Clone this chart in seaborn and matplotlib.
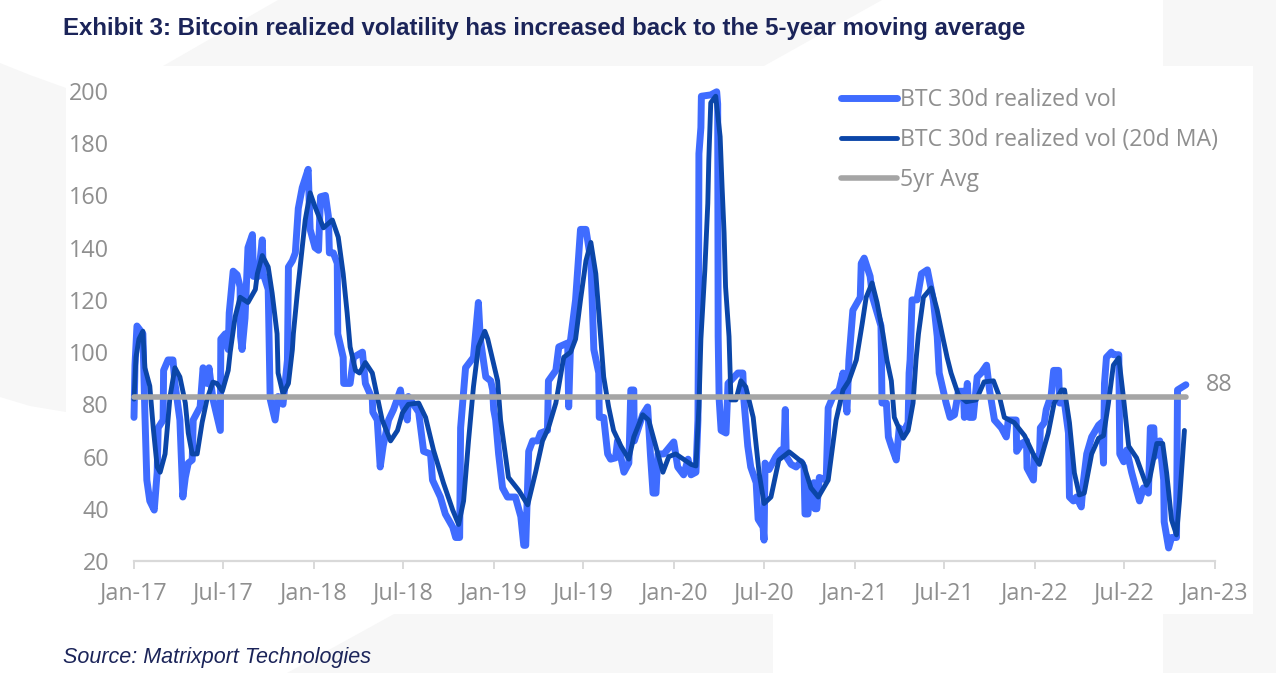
import matplotlib
matplotlib.use("Agg")
import matplotlib.pyplot as plt
import matplotlib.dates as mdates
from matplotlib.patches import Polygon, Rectangle
import pandas as pd
import seaborn as sns

# values, x is days since 1 Jan 2017
raw_days = [0, 2, 6, 18, 22, 26, 32, 41, 47, 49, 59, 60, 69, 79, 83, 93, 99, 104, 110, 118,
            120, 134, 140, 148, 152, 160, 175, 176, 185, 191, 193, 201, 209, 215, 216, 219, 225, 231, 240, 242,
            252, 260, 262, 272, 276, 286, 292, 302, 311, 313, 321, 327, 333, 341, 353, 357, 367, 374, 378, 388,
            394, 396, 404, 412, 413, 424, 425, 438, 445, 463, 469, 483, 484, 493, 499, 505, 516, 526, 540, 544,
            554, 556, 577, 587, 601, 605, 621, 631, 646, 652, 660, 662, 672, 688, 698, 702, 713, 723, 727, 729,
            733, 739, 747, 757, 773, 784, 790, 794, 800, 808, 818, 824, 838, 840, 855, 861, 879, 881, 885, 895,
            905, 916, 926, 932, 942, 943, 952, 960, 966, 976, 980, 993, 1003, 1007, 1013, 1014, 1031, 1041, 1047, 1052,
            1058, 1062, 1074, 1094, 1102, 1114, 1123, 1129, 1139, 1143, 1144, 1145, 1149, 1150, 1169, 1181, 1183, 1184, 1186, 1190,
            1200, 1204, 1224, 1234, 1236, 1244, 1250, 1261, 1265, 1275, 1277, 1279, 1287, 1301, 1311, 1317, 1320, 1322, 1332, 1342,
            1352, 1358, 1360, 1366, 1370, 1378, 1380, 1384, 1389, 1403, 1407, 1419, 1429, 1437, 1445, 1449, 1457, 1472, 1474, 1480,
            1492, 1497, 1514, 1515, 1516, 1525, 1529, 1535, 1545, 1551, 1559, 1569, 1571, 1573, 1577, 1587, 1596, 1608, 1620, 1628,
            1632, 1646, 1654, 1663, 1671, 1681, 1683, 1689, 1693, 1701, 1709, 1717, 1728, 1734, 1744, 1758, 1768, 1772, 1788, 1789,
            1799, 1809, 1810, 1823, 1825, 1835, 1837, 1845, 1849, 1859, 1864, 1874, 1876, 1886, 1894, 1896, 1904, 1910, 1920, 1924,
            1931, 1941, 1955, 1961, 1965, 1967, 1971, 1981, 1985, 1996, 1998, 2006, 2012, 2022, 2032, 2038, 2046, 2056, 2060, 2067,
            2069, 2079, 2087, 2088, 2097, 2103, 2113, 2115, 2132]
raw_vol = [75, 95, 110, 107, 77, 51, 43, 39.5, 54, 71, 74, 93, 97, 97, 88, 74, 44.5, 52, 57.5, 58.7,
           74, 79, 94, 88, 94, 82, 70, 105, 107, 101, 115, 131, 129.6, 125, 106, 101, 113, 140, 145, 129,
           129, 143, 130, 124, 82, 74, 83, 80, 97, 132.6, 135, 138, 155, 163, 170, 147, 140, 139, 159.5, 160,
           152, 138, 138, 134, 107, 98, 88, 88, 98, 100, 88, 82, 77, 74, 56, 64, 74, 78, 85.5, 80,
           74, 83, 77, 62, 61, 51, 44.5, 38, 33, 29, 29, 71, 94, 98, 119, 105, 90.5, 89, 85.5, 78,
           74, 61, 48, 44.5, 44.5, 37, 26, 26, 62, 66, 66, 69, 70, 89, 93, 102, 103.5, 79, 105, 120,
           147, 147, 135, 101, 92, 75, 75, 61, 59, 59.5, 66, 54, 57.5, 85.5, 85.5, 66, 76, 79, 60, 46,
           46, 61, 61, 65.6, 56, 53, 59, 53, 54, 74, 105, 176, 186, 198, 198.5, 199.7, 195, 106, 82, 70,
           69, 88, 92, 92, 82, 64, 56, 50, 36, 33, 28, 57.5, 55, 60, 62.5, 61, 78, 60, 57, 56,
           58, 56, 38, 38, 48, 50, 40, 40, 52, 51, 78.6, 84, 85.5, 92, 77, 97, 116, 121, 134, 136,
           129, 121, 110, 98, 80.5, 80.5, 67.5, 64, 58.7, 71, 69, 73, 92, 97, 120, 120, 130, 131.5, 120, 106,
           92, 80.5, 75, 76, 85, 85, 75, 88, 75, 75, 90.5, 92, 95, 85.5, 74, 71, 67.5, 74, 74, 62,
           65, 66, 55.6, 51, 60, 58.7, 71, 73, 78, 83.6, 93, 93, 80.5, 80.5, 69, 44.5, 43, 44.5, 40.7, 50,
           61, 67.5, 72, 73, 57.5, 88, 98, 100, 99, 99, 61, 58, 62.5, 54, 47, 43, 48, 46, 71, 71,
           60, 66, 51, 35, 25, 29, 29, 85.5, 87.5]

ma_days = [0, 4, 10, 18, 22, 32, 39, 47, 53, 63, 73, 83, 93, 104, 110, 118, 128, 138, 148, 160,
           168, 179, 191, 195, 205, 215, 231, 246, 250, 260, 272, 280, 290, 292, 302, 313, 321, 323, 331, 341,
           347, 357, 367, 384, 402, 414, 424, 432, 438, 449, 457, 469, 483, 493, 503, 520, 534, 544, 556, 577,
           591, 607, 627, 646, 658, 668, 678, 688, 698, 711, 717, 737, 743, 759, 780, 798, 814, 828, 840, 855,
           871, 885, 895, 905, 916, 926, 936, 946, 952, 962, 972, 987, 1003, 1013, 1031, 1043, 1062, 1072, 1084, 1098,
           1129, 1139, 1145, 1149, 1157, 1163, 1165, 1169, 1179, 1188, 1192, 1196, 1199, 1206, 1210, 1220, 1230, 1240, 1255, 1267,
           1277, 1291, 1307, 1328, 1356, 1372, 1387, 1407, 1423, 1437, 1449, 1464, 1476, 1484, 1496, 1506, 1518, 1526, 1535, 1541,
           1559, 1569, 1579, 1585, 1590, 1600, 1616, 1628, 1640, 1648, 1656, 1671, 1687, 1707, 1723, 1742, 1754, 1764, 1784, 1805,
           1825, 1835, 1853, 1865, 1880, 1886, 1896, 1906, 1916, 1926, 1941, 1955, 1965, 1975, 1985, 1996, 2006, 2016, 2032, 2052,
           2058, 2073, 2085, 2093, 2103, 2113, 2119, 2129]
ma_vol = [82, 98, 105, 108, 94, 87, 71, 56, 54, 61, 83, 94, 90.5, 80.5, 69, 61, 61, 73, 82, 88.5,
          88, 85, 93, 100, 113.5, 121, 119, 124, 130, 137, 132.6, 122.6, 107, 92, 84, 88, 101, 107, 122.6, 140,
          150.6, 161, 155.6, 147.6, 150.6, 144, 130, 115, 102, 93, 92, 96, 92, 83, 74, 66, 70, 76.7, 80, 80.5,
          75, 62.5, 50, 39.5, 34, 43, 66, 86.7, 102, 108, 105, 89, 74, 52, 47, 41.5, 54, 66, 71, 80.5,
          98, 100, 105, 120, 135, 142, 130, 105, 90.5, 79, 70, 64, 59, 67.5, 76, 74, 61, 54, 60, 61,
          57, 56.4, 79, 105, 131.5, 157, 173.6, 195.5, 198, 182.5, 163, 145.6, 125, 106, 81.7, 81.7, 89, 86.7, 75, 53.7,
          42, 44.5, 58.7, 61.8, 57.6, 48, 44.5, 51, 74, 85.5, 89, 97, 111, 121, 126.5, 119, 107, 97, 89, 75,
          67, 70, 80.5, 97, 107, 121, 124.6, 116, 105, 98, 92, 83.6, 81, 81.7, 88.6, 89, 83, 75, 73, 68,
          60, 57, 69, 80.5, 85.5, 85.5, 73, 53.7, 45.3, 46, 61, 67, 68, 80.5, 95, 97.8, 81.7, 64, 59.5, 49,
          51, 65, 65, 53.7, 35.7, 30, 43, 70]

avg_days = [0, 2132]
avg_vol = [82.8, 82.8]

yticks = [20, 40, 60, 80, 100, 120, 140, 160, 180, 200]
xtick_dates = ["2017-01-01", "2017-07-01", "2018-01-01", "2018-07-01", "2019-01-01", "2019-07-01", "2020-01-01",
               "2020-07-01", "2021-01-01", "2021-07-01", "2022-01-01", "2022-07-01", "2023-01-01"]

BG = "#f7f7f7"
GREY = "#8f8f8f"
NAVY = "#1b2459"
W, H = 1276, 673


def to_dates(days):
    return pd.Timestamp("2017-01-01") + pd.to_timedelta(days, unit="D")


def page_poly(points, color):
    pts = [(x / W, 1 - y / H) for x, y in points]
    fig.add_artist(Polygon(pts, closed=True, transform=fig.transFigure, facecolor=color, edgecolor="none", zorder=-5))


sns.set_theme(style="white")
plt.rcParams["font.family"] = ["Open Sans", "DejaVu Sans"]

fig = plt.figure(figsize=(W / 100, H / 100), dpi=100, facecolor="white")

# watermark shapes behind the chart
page_poly([(0, 63), (30, 75), (66, 88), (66, 412), (30, 406), (0, 397)], BG)
page_poly([(278, 0), (882, 0), (764, 66), (163, 66)], BG)
page_poly([(1163, 0), (1276, 0), (1276, 673), (1163, 673), (1163, 614), (1253, 614), (1253, 66), (1163, 66)], BG)
page_poly([(394, 614), (773, 614), (773, 673), (287, 673)], BG)
fig.add_artist(Rectangle((66 / W, 1 - 614 / H), (1253 - 66) / W, 548 / H, transform=fig.transFigure,
                         facecolor="white", edgecolor="none", zorder=-4))

ax = fig.add_axes([134 / W, 1 - 561 / H, (1215 - 134) / W, (561 - 91) / H])
ax.patch.set_alpha(0)

sns.lineplot(x=to_dates(raw_days), y=raw_vol, estimator=None, sort=False, ax=ax, color="#3f6cff", linewidth=5.0,
             label="BTC 30d realized vol", solid_joinstyle="round", solid_capstyle="round", clip_on=False)
sns.lineplot(x=to_dates(ma_days), y=ma_vol, estimator=None, sort=False, ax=ax, color="#0b46a8", linewidth=3.5,
             label="BTC 30d realized vol (20d MA)", solid_joinstyle="round", solid_capstyle="round", clip_on=False)
sns.lineplot(x=to_dates(avg_days), y=avg_vol, estimator=None, sort=False, ax=ax, color="#a5a5a5", linewidth=4.0,
             label="5yr Avg", solid_capstyle="round", clip_on=False)

ax.set_xlim(pd.Timestamp("2017-01-01"), pd.Timestamp("2023-01-01"))
ax.set_ylim(20, 200)
ax.set_yticks(yticks)
ax.set_xticks(pd.to_datetime(xtick_dates))
ax.xaxis.set_major_formatter(mdates.DateFormatter("%b-%y"))
ax.set_xlabel("")
ax.set_ylabel("")
ax.grid(False)

for side in ["top", "left", "right"]:
    ax.spines[side].set_visible(False)
ax.spines["bottom"].set_color("#d9d9d9")
ax.spines["bottom"].set_linewidth(1.6)
ax.tick_params(axis="x", length=6, width=1.4, color="#d9d9d9", labelsize=16.8, labelcolor=GREY, pad=9, bottom=True)
ax.tick_params(axis="y", length=0, labelsize=16.8, labelcolor=GREY, pad=18)

ax.annotate("88", xy=(to_dates([raw_days[-1]])[0], raw_vol[-1]), xytext=(20, 0), textcoords="offset pixels",
            fontsize=16.8, color=GREY, va="center", ha="left")

leg = ax.legend(loc="upper left", bbox_to_anchor=(841 / W, 1 - 88 / H), bbox_transform=fig.transFigure, frameon=False,
                fontsize=16.7, labelcolor=GREY, borderpad=0, borderaxespad=0, handlelength=2.4, handletextpad=0.13,
                labelspacing=0.7)

fig.text(63 / W, 1 - 28 / H, "Exhibit 3: Bitcoin realized volatility has increased back to the 5-year moving average",
         family="Liberation Sans", fontweight="bold", fontsize=17.3, color=NAVY, va="center", ha="left")
fig.text(63 / W, 1 - 658 / H, "Source: Matrixport Technologies", family="Liberation Sans", style="italic",
         fontsize=15.5, color=NAVY, va="center", ha="left")

fig.savefig("out.png", dpi=100, facecolor=fig.get_facecolor())
